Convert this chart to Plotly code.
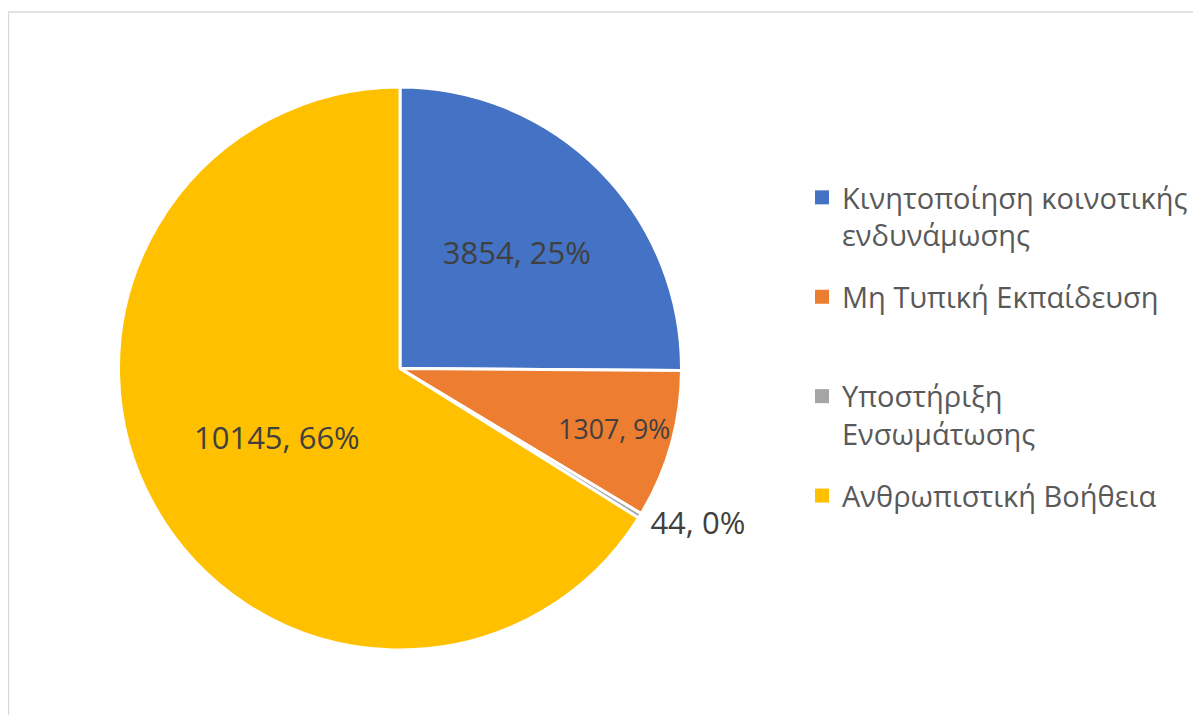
import plotly.graph_objects as go

categories = ["Κινητοποίηση κοινοτικής<br>ενδυνάμωσης", "Μη Τυπική Εκπαίδευση",
              "Υποστήριξη<br>Ενσωμάτωσης", "Ανθρωπιστική Βοήθεια"]
values = [3854, 1307, 44, 10145]
colors = ["#4472C4", "#ED7D31", "#A5A5A5", "#FFC000"]
text_positions = ["inside", "inside", "outside", "inside"]

W, H = 1201, 715
OFF = 8  # page body margin offset

fig = go.Figure(go.Pie(
    labels=[c.replace("<br>", " ") for c in categories],
    values=values,
    sort=False,
    direction="clockwise",
    rotation=0,
    marker=dict(colors=colors, line=dict(color="white", width=3)),
    texttemplate="%{value:d}, %{percent:.0%}",
    textposition=text_positions,
    insidetextorientation="horizontal",
    textfont=dict(family="Open Sans", size=31, color="#404040"),
    outsidetextfont=dict(family="Open Sans", size=31, color="#404040"),
    domain=dict(x=[(118 - OFF) / W, (682 - OFF) / W],
                y=[1 - (650 - OFF) / H, 1 - (87 - OFF) / H]),
    hoverinfo="label+value+percent",
    showlegend=False,
))

# legend entries (equal slots, like the original chart's legend)
for i, (c, col) in enumerate(zip(categories, colors)):
    name = c if "<br>" in c else c + "<br> "
    fig.add_trace(go.Scatter(
        x=[None], y=[None], mode="markers", name=name,
        marker=dict(symbol="square", size=14, color=col),
        legendgroup=f"g{i}", showlegend=True, hoverinfo="skip",
    ))

fig.update_layout(
    width=W, height=H,
    margin=dict(l=0, r=0, t=0, b=0),
    paper_bgcolor="white",
    plot_bgcolor="white",
    font=dict(family="Open Sans", color="#595959"),
    xaxis=dict(visible=False),
    yaxis=dict(visible=False),
    legend=dict(
        x=794 / W, y=1 - 164 / H, xanchor="left", yanchor="top",
        font=dict(family="Open Sans", size=29, color="#595959"),
        itemsizing="trace",
        tracegroupgap=21,
        traceorder="grouped",
        valign="top",
        bgcolor="rgba(0,0,0,0)",
    ),
    shapes=[dict(type="rect", xref="paper", yref="paper",
                 x0=0.5 / W, x1=1.02, y0=-0.02, y1=1 - (12 - OFF) / H,
                 line=dict(color="#D9D9D9", width=1.5), layer="below")],
)

fig.write_html("out.html")
